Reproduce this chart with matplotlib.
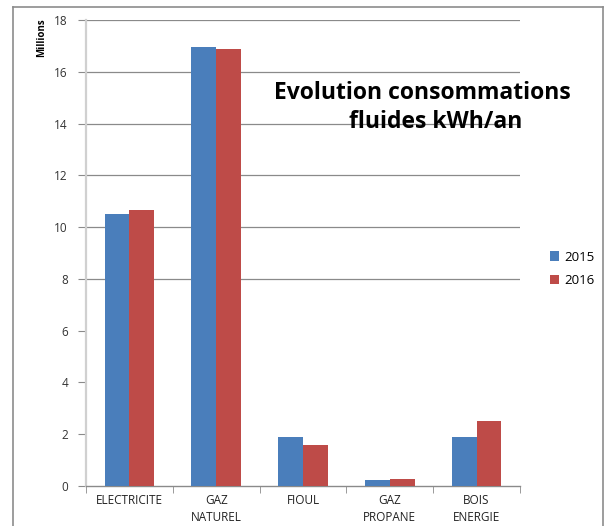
import matplotlib
matplotlib.use("Agg")
import matplotlib.pyplot as plt
import numpy as np
from matplotlib.lines import Line2D

categories = ["ELECTRICITE", "GAZ\nNATUREL", "FIOUL", "GAZ\nPROPANE", "BOIS\nENERGIE"]
v2015 = [10.5, 16.95, 1.9, 0.22, 1.9]
v2016 = [10.65, 16.88, 1.57, 0.28, 2.5]
years = ["2015", "2016"]
yticks = [0, 2, 4, 6, 8, 10, 12, 14, 16, 18]
grid_levels = [8, 10, 12, 14, 16, 18]

plt.rcParams['font.family'] = ['Open Sans', 'DejaVu Sans']

W, H = 610, 526
fig = plt.figure(figsize=(W/100, H/100), dpi=100)
fig.patch.set_facecolor('white')

# outer border
for (x0, y0, x1, y1) in [(13, 7, 13, 530), (13, 7, 603, 7), (603, 7, 603, 530)]:
    fig.add_artist(Line2D([x0/W, x1/W], [1-y0/H, 1-y1/H], transform=fig.transFigure,
                          color='#8c8c8c', lw=1.2))

ax = fig.add_axes([86/W, 1-486/H, (520-86)/W, (486-20)/H])
x = np.arange(len(categories))
bw = 0.285
ax.bar(x - bw/2, v2015, bw, color='#4a7ebb', label=years[0], zorder=3)
ax.bar(x + bw/2, v2016, bw, color='#be4b48', label=years[1], zorder=3)

ax.set_xlim(-0.5, len(categories)-0.5)
ax.set_ylim(0, 18)
ax.set_yticks(yticks)
ax.set_yticklabels([str(t) for t in yticks], fontsize=8.5, color='#333333')
for g in grid_levels:
    ax.axhline(g, color='#8a8a8a', lw=0.9, zorder=1)
ax.tick_params(axis='y', length=6, width=0.8, color='#8a8a8a', pad=7)
ax.set_xticks(x)
ax.set_xticklabels(categories, fontsize=8.5, color='#222222', linespacing=1.4)
ax.set_xticks(np.arange(-0.5, len(categories), 1), minor=True)
ax.tick_params(axis='x', which='major', length=0, pad=6)
ax.tick_params(axis='x', which='minor', length=5, color='#8a8a8a')

for s in ['top', 'right']:
    ax.spines[s].set_visible(False)
ax.spines['left'].set_color('#d0d0d0')
ax.spines['left'].set_linewidth(1.6)
ax.spines['bottom'].set_color('#8a8a8a')
ax.spines['bottom'].set_linewidth(1)

fig.text(42/W, 1-38/H, "Millions", rotation=90, fontsize=7, fontweight='bold',
         ha='center', va='center')

fig.text(422/W, 1-93/H, "Evolution consommations", fontsize=16.5, fontweight='bold',
         ha='center', va='center')
fig.text(436/W, 1-122/H, "fluides kWh/an", fontsize=16.5, fontweight='bold',
         ha='center', va='center')

leg = fig.legend(loc='center left', bbox_to_anchor=(538/W, 1-269/H), frameon=False,
                 fontsize=9.5, handlelength=0.7, handleheight=0.7, handletextpad=0.4,
                 labelspacing=0.8)

fig.savefig("out.png", dpi=100, facecolor='white')
